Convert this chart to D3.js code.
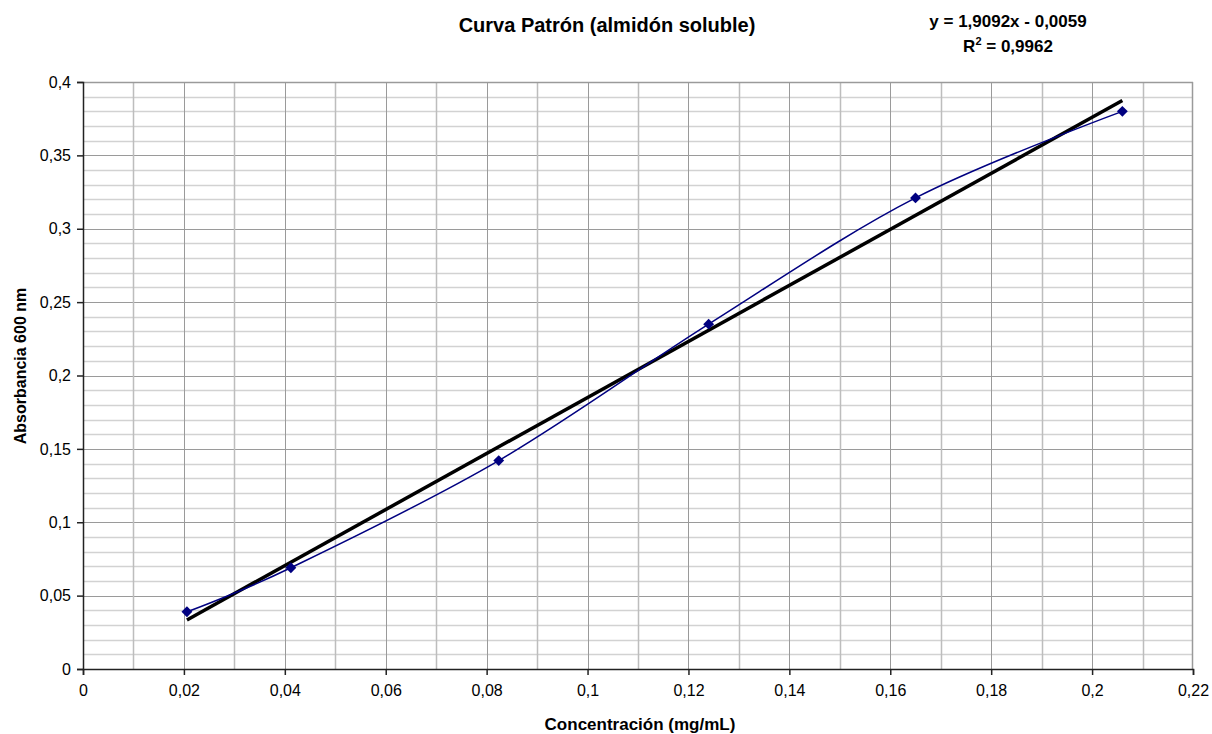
<html>
<head>
<meta charset="utf-8">
<title>Curva Patrón (almidón soluble)</title>
<script src="https://cdn.jsdelivr.net/npm/d3@7"></script>
<style>
    body { margin: 0; background: #fff; font-family: "Liberation Sans", Arial, sans-serif; }
    .tick-label { font-size: 16px; fill: #000; }
    .bold { font-weight: bold; fill: #000; }
</style>
</head>
<body>
<div class="mainView"></div>
<script>
    // data
    let concentracion = [0.0206, 0.0412, 0.0824, 0.124, 0.165, 0.206];
    let absorbancia = [0.039, 0.069, 0.142, 0.235, 0.321, 0.380];
    let xTicks = [0, 0.02, 0.04, 0.06, 0.08, 0.1, 0.12, 0.14, 0.16, 0.18, 0.2, 0.22];
    let yTicks = [0, 0.05, 0.1, 0.15, 0.2, 0.25, 0.3, 0.35, 0.4];
    let slope = 1.9092, intercept = -0.0059, r2 = 0.9962;

    function getChartConfig() {
        let width = 1212, height = 734;
        let margin = { top: 82, bottom: 65, left: 83, right: 19 };
        let bodyWidth = width - margin.left - margin.right;
        let bodyHeight = height - margin.top - margin.bottom;
        let svg = d3.select(".mainView").append("svg")
            .attr("width", width).attr("height", height);
        let container = svg.append("g")
            .attr("transform", "translate(" + [margin.left, margin.top] + ")");
        return { width, height, margin, bodyWidth, bodyHeight, svg, container };
    }

    function getChartScales(config) {
        let xScale = d3.scaleLinear().domain([0, 0.22]).range([0, config.bodyWidth]);
        let yScale = d3.scaleLinear().domain([0, 0.4]).range([config.bodyHeight, 0]);
        return { xScale, yScale };
    }

    let fmt = d => String(+d.toFixed(3)).replace(".", ",");
    let fmt4 = d => d.toFixed(4).replace(".", ",");

    function drawGrid(scales, config) {
        let { xScale, yScale } = scales;
        let { container, bodyWidth, bodyHeight } = config;
        let g = container.append("g");
        // horizontal minor every 0.01
        d3.range(1, 40).forEach(i => {
            let v = i / 100;
            let major = i % 5 === 0;
            g.append("line")
                .attr("x1", 0).attr("x2", bodyWidth)
                .attr("y1", Math.round(yScale(v)) + 0.5).attr("y2", Math.round(yScale(v)) + 0.5)
                .style("stroke", major ? "#9a9a9a" : "#d2d2d2")
                .style("stroke-width", major ? 1 : 1.5);
        });
        // vertical every 0.01
        d3.range(1, 22).forEach(i => {
            let v = i / 100;
            let major = i % 2 === 0;
            g.append("line")
                .attr("y1", 0).attr("y2", bodyHeight)
                .attr("x1", Math.round(xScale(v)) + 0.5).attr("x2", Math.round(xScale(v)) + 0.5)
                .style("stroke", major ? "#9a9a9a" : "#bdbdbd")
                .style("stroke-width", major ? 1 : 1.5);
        });
        // top and right border
        g.append("line").attr("x1", 0).attr("x2", bodyWidth).attr("y1", 0.5).attr("y2", 0.5)
            .style("stroke", "#9a9a9a").style("stroke-width", 1.5);
        g.append("line").attr("x1", bodyWidth - 0.5).attr("x2", bodyWidth - 0.5).attr("y1", 0).attr("y2", bodyHeight)
            .style("stroke", "#9a9a9a").style("stroke-width", 1.5);
    }

    function drawAxes(scales, config) {
        let { xScale, yScale } = scales;
        let { container, bodyHeight } = config;
        let axisX = d3.axisBottom(xScale).tickValues(xTicks).tickSize(6).tickPadding(10).tickFormat(fmt);
        let gx = container.append("g")
            .attr("transform", "translate(0," + bodyHeight + ")")
            .call(axisX);
        let axisY = d3.axisLeft(yScale).tickValues(yTicks).tickSize(6).tickPadding(6).tickFormat(fmt);
        let gy = container.append("g").call(axisY);
        [gx, gy].forEach(a => {
            a.select(".domain").style("stroke", "#222").style("stroke-width", 1.5);
            a.selectAll(".tick line").style("stroke", "#222").style("stroke-width", 1.5);
            a.selectAll("text").attr("class", "tick-label").style("font-family", "Liberation Sans, Arial, sans-serif");
        });
    }

    function drawSeries(scales, config) {
        let { xScale, yScale } = scales;
        let { container } = config;
        let points = concentracion.map((c, i) => ({ x: c, y: absorbancia[i] }));

        // linear trend line
        let x0 = d3.min(concentracion), x1 = d3.max(concentracion);
        container.append("line")
            .attr("x1", xScale(x0)).attr("y1", yScale(slope * x0 + intercept))
            .attr("x2", xScale(x1)).attr("y2", yScale(slope * x1 + intercept))
            .style("stroke", "#000").style("stroke-width", 3.5);

        let line = d3.line()
            .x(d => xScale(d.x)).y(d => yScale(d.y))
            .curve(d3.curveCardinal.tension(0));
        container.append("path")
            .datum(points)
            .attr("d", line)
            .style("fill", "none").style("stroke", "#000080").style("stroke-width", 1.5);

        container.selectAll(".pt").data(points).enter()
            .append("path")
            .attr("class", "pt")
            .attr("transform", d => "translate(" + xScale(d.x) + "," + yScale(d.y) + ")")
            .attr("d", d3.symbol().type(d3.symbolDiamond2).size(75))
            .style("fill", "#000080");
    }

    function drawTexts(config) {
        let { svg, margin, bodyWidth, bodyHeight } = config;
        svg.append("text").attr("class", "bold")
            .attr("x", 607).attr("y", 32)
            .attr("text-anchor", "middle").style("font-size", "20px")
            .text("Curva Patrón (almidón soluble)");
        svg.append("text").attr("class", "bold")
            .attr("x", 1008).attr("y", 27)
            .attr("text-anchor", "middle").style("font-size", "17px")
            .text("y = " + fmt4(slope) + "x - " + fmt4(-intercept));
        let l2 = svg.append("text").attr("class", "bold")
            .attr("x", 1008).attr("y", 52)
            .attr("text-anchor", "middle").style("font-size", "17px");
        l2.append("tspan").text("R");
        l2.append("tspan").attr("dy", -7).style("font-size", "11px").text("2");
        l2.append("tspan").attr("dy", 7).text(" = " + fmt4(r2));

        svg.append("text").attr("class", "bold")
            .attr("x", margin.left + bodyWidth / 2 + 2).attr("y", 730)
            .attr("text-anchor", "middle").style("font-size", "17px")
            .text("Concentración (mg/mL)");
        svg.append("text").attr("class", "bold")
            .attr("transform", "translate(26,366) rotate(-90)")
            .attr("text-anchor", "middle").style("font-size", "16px")
            .text("Absorbancia 600 nm");
    }

    function showData() {
        let config = getChartConfig();
        let scales = getChartScales(config);
        drawGrid(scales, config);
        drawSeries(scales, config);
        drawAxes(scales, config);
        drawTexts(config);
    }
    showData();
</script>
</body>
</html>
